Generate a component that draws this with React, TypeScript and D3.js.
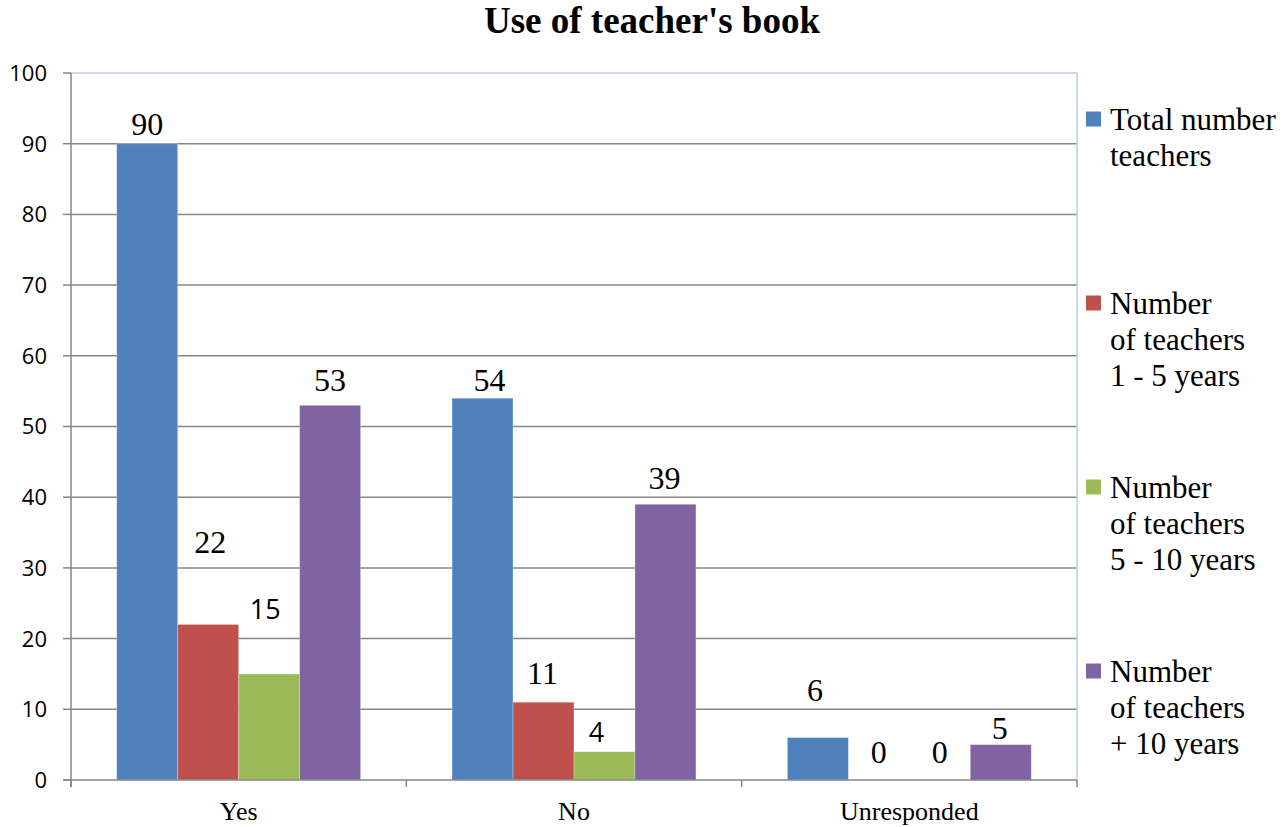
import React from "react";
import * as d3 from "d3";

const categories = ["Yes", "No", "Unresponded"];
const seriesNames = [
  ["Total number", "teachers"],
  ["Number", "of teachers", "1 - 5 years"],
  ["Number", "of teachers", "5 - 10 years"],
  ["Number", "of teachers", "+ 10 years"],
];
const totalTeachers = [90, 54, 6];
const teachers1to5 = [22, 11, 0];
const teachers5to10 = [15, 4, 0];
const teachers10plus = [53, 39, 5];
const yTicks = [0, 10, 20, 30, 40, 50, 60, 70, 80, 90, 100];

const seriesValues = [totalTeachers, teachers1to5, teachers5to10, teachers10plus];
const colors = ["#4F81BD", "#C0504D", "#9BBB59", "#8064A2"];

// label layout (pixel offsets from bar top / center), per [series][category]
const labelDy = [
  [-20, -18, -48],
  [-83, -29, -28],
  [-64, -19, -28],
  [-25, -26, -17],
];
const labelDx = [
  [0, 7, -3],
  [2, -1, 0],
  [-4, -8, 0],
  [0, -1, -1],
];
const labelSans = [
  [false, false, false],
  [false, false, false],
  [true, true, false],
  [false, false, false],
];

const W = 1282;
const H = 827;
const left = 71;
const right = 1077;
const top = 73;
const bottom = 780;

const serif = "'Liberation Serif', 'Times New Roman', serif";
const sans = "'Open Sans', 'Liberation Sans', sans-serif";

export default function App() {
  const x0 = d3.scaleBand<string>().domain(categories).range([left, right]).padding(0);
  const x1 = d3
    .scaleBand<number>()
    .domain(d3.range(seriesValues.length))
    .range([0, x0.bandwidth()])
    .paddingInner(0)
    .paddingOuter(0.75);
  const y = d3.scaleLinear().domain([0, 100]).range([bottom, top]);

  const boundaries = [left, ...categories.map((c) => (x0(c) as number) + x0.bandwidth())];

  return (
    <svg
      width={W}
      height={H}
      style={{ position: "fixed", left: 0, top: 0, background: "#fff" }}
    >
      <rect x={0} y={0} width={W} height={H} fill="#fff" />
      <text
        x={652}
        y={33}
        textAnchor="middle"
        fontFamily={serif}
        fontWeight="bold"
        fontSize={37}
        fill="#000"
      >
        Use of teacher's book
      </text>

      {/* gridlines */}
      {yTicks.map((t) =>
        t === 0 || t === 100 ? null : (
          <line key={t} x1={left} x2={right} y1={y(t)} y2={y(t)} stroke="#868686" strokeWidth={1.5} />
        )
      )}
      {/* plot border top/right */}
      <line x1={left} x2={right} y1={y(100)} y2={y(100)} stroke="#B9CDE5" strokeWidth={1.5} />
      <line x1={right} x2={right} y1={y(100)} y2={bottom} stroke="#B9CDE5" strokeWidth={1.5} />

      {/* bars */}
      {seriesValues.map((vals, si) =>
        vals.map((v, ci) => {
          const bx = (x0(categories[ci]) as number) + (x1(si) as number);
          return (
            <rect
              key={`${si}-${ci}`}
              x={bx}
              y={y(v)}
              width={x1.bandwidth()}
              height={bottom - y(v)}
              fill={colors[si]}
              stroke="#ffffff"
              strokeOpacity={0.35}
              strokeWidth={0.8}
            />
          );
        })
      )}

      {/* axes */}
      <line x1={left} x2={left} y1={y(100)} y2={bottom + 7} stroke="#868686" strokeWidth={1.5} />
      <line x1={left - 8} x2={right} y1={bottom} y2={bottom} stroke="#868686" strokeWidth={1.5} />
      {yTicks.map((t) => (
        <g key={`yt${t}`}>
          <line x1={left - 8} x2={left} y1={y(t)} y2={y(t)} stroke="#868686" strokeWidth={1.5} />
          <text
            x={47}
            y={y(t)}
            dy="0.36em"
            textAnchor="end"
            fontFamily={sans}
            fontSize={22}
            fill="#000"
          >
            {t}
          </text>
        </g>
      ))}
      {boundaries.map((b, i) => (
        <line key={`xt${i}`} x1={b} x2={b} y1={bottom} y2={bottom + 7} stroke="#868686" strokeWidth={1.5} />
      ))}
      {categories.map((c) => (
        <text
          key={c}
          x={(x0(c) as number) + x0.bandwidth() / 2}
          y={820}
          textAnchor="middle"
          fontFamily={serif}
          fontSize={26}
          fill="#000"
        >
          {c}
        </text>
      ))}

      {/* data labels */}
      {seriesValues.map((vals, si) =>
        vals.map((v, ci) => {
          const cx =
            (x0(categories[ci]) as number) + (x1(si) as number) + x1.bandwidth() / 2 + labelDx[si][ci];
          const cy = y(v) + labelDy[si][ci];
          const isSans = labelSans[si][ci];
          return (
            <text
              key={`l${si}-${ci}`}
              x={cx}
              y={cy}
              dy="0.35em"
              textAnchor="middle"
              fontFamily={isSans ? sans : serif}
              fontSize={isSans ? 27 : 32}
              fill="#000"
            >
              {v}
            </text>
          );
        })
      )}

      {/* legend */}
      {seriesNames.map((lines, si) => {
        const firstY = [119, 303, 487, 671][si];
        return (
          <g key={`lg${si}`}>
            <rect x={1086} y={firstY - 7.5} width={15} height={15} fill={colors[si]} />
            {lines.map((ln, li) => (
              <text
                key={li}
                x={1110}
                y={firstY + li * 36.3}
                dy="0.35em"
                fontFamily={serif}
                fontSize={31}
                fill="#000"
              >
                {ln}
              </text>
            ))}
          </g>
        );
      })}
    </svg>
  );
}
